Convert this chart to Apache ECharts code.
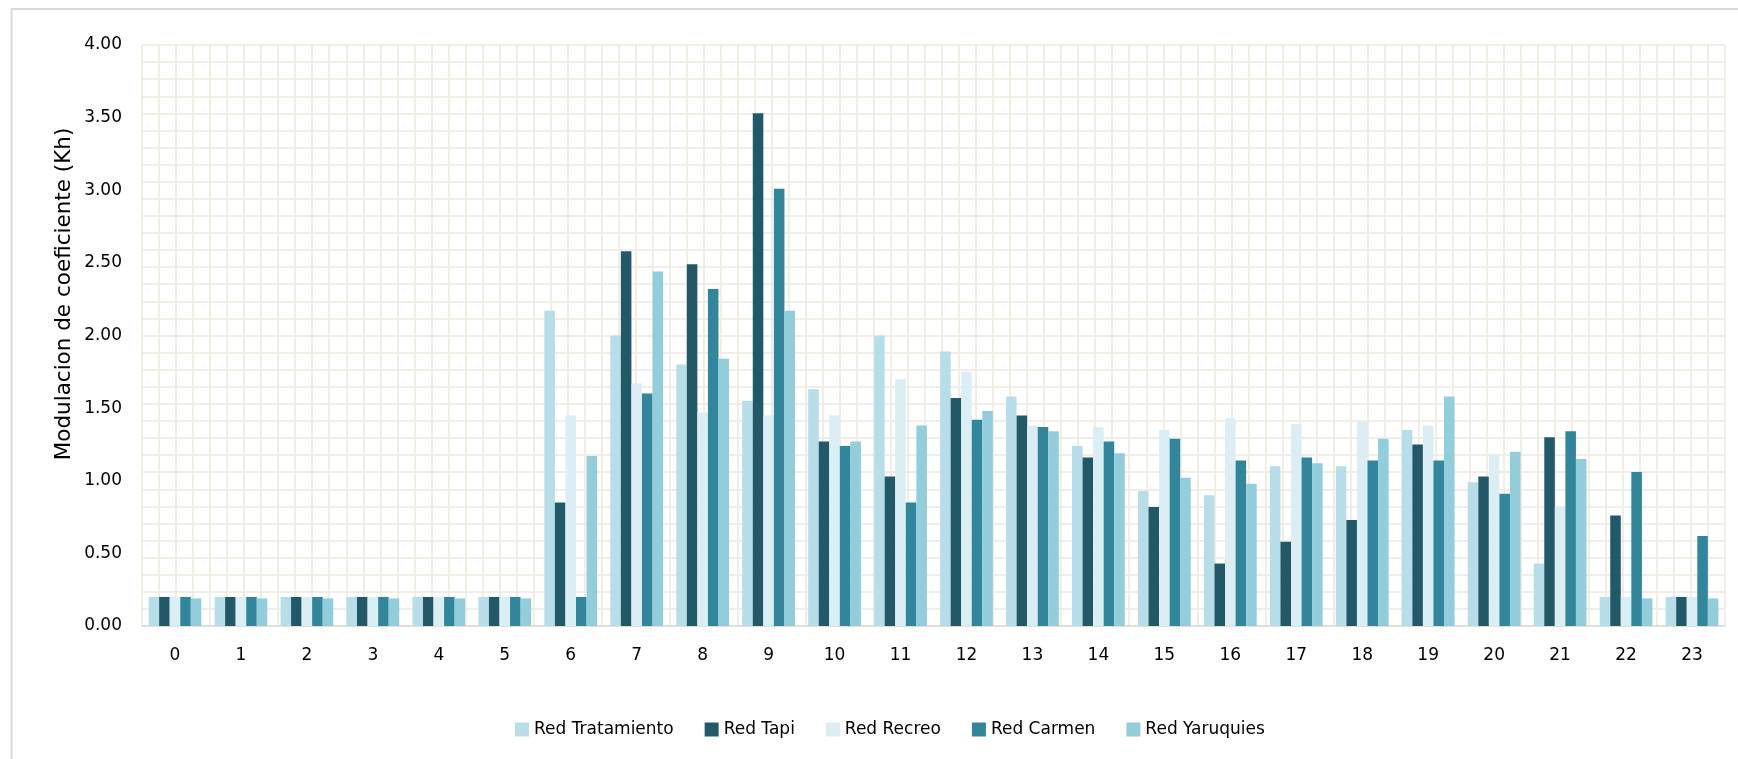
<!DOCTYPE html>
<html>
<head>
<meta charset="utf-8">
<title>Modulacion de coeficiente (Kh)</title>
<script src="https://cdn.jsdelivr.net/npm/echarts@6/dist/echarts.min.js"></script>
<style>
  html, body { margin: 0; padding: 0; background: #ffffff; }
  #chart { width: 1738px; height: 759px; }
</style>
</head>
<body>
<div id="chart"></div>
<script>
// Hours of the day (category axis)
const hours = ['0','1','2','3','4','5','6','7','8','9','10','11','12','13','14','15','16','17','18','19','20','21','22','23'];

// Hourly coefficient per network
const redTratamiento = [0.20,0.20,0.20,0.20,0.20,0.20,2.17,2.00,1.80,1.55,1.63,2.00,1.89,1.58,1.24,0.93,0.90,1.10,1.10,1.35,0.99,0.43,0.20,0.20];
const redTapi        = [0.20,0.20,0.20,0.20,0.20,0.20,0.85,2.58,2.49,3.53,1.27,1.03,1.57,1.45,1.16,0.82,0.43,0.58,0.73,1.25,1.03,1.30,0.76,0.20];
const redRecreo      = [0.20,0.20,0.20,0.20,0.20,0.20,1.45,1.67,1.47,1.45,1.45,1.70,1.75,1.38,1.37,1.35,1.43,1.39,1.41,1.38,1.18,0.82,0.20,0.20];
const redCarmen      = [0.20,0.20,0.20,0.20,0.20,0.20,0.20,1.60,2.32,3.01,1.24,0.85,1.42,1.37,1.27,1.29,1.14,1.16,1.14,1.14,0.91,1.34,1.06,0.62];
const redYaruquies   = [0.19,0.19,0.19,0.19,0.19,0.19,1.17,2.44,1.84,2.17,1.27,1.38,1.48,1.34,1.19,1.02,0.98,1.12,1.29,1.58,1.20,1.15,0.19,0.19];

const seriesNames = ['Red Tratamiento','Red Tapi','Red Recreo','Red Carmen','Red Yaruquies'];
const seriesData  = [redTratamiento, redTapi, redRecreo, redCarmen, redYaruquies];
const seriesColors = ['#B7DEE8','#215968','#DAEEF3','#31869B','#92CDDC'];

// Value axis ticks
const yMin = 0, yMax = 4, yStep = 0.5;

const FONT = 'DejaVu Sans';
const chart = echarts.init(document.getElementById('chart'), null, { renderer: 'canvas' });

const gridPattern = { show: true, lineStyle: { color: '#EDEADD', width: 1.5 } };

chart.setOption({
  animation: false,
  backgroundColor: '#ffffff',
  textStyle: { fontFamily: FONT },
  grid: { left: 142, right: 13, top: 45, bottom: 133, containLabel: false },
  legend: {
    data: seriesNames,
    left: 515,
    top: 721,
    padding: 0,
    icon: 'rect',
    itemWidth: 14,
    itemHeight: 14,
    itemGap: 31,
    textStyle: { fontFamily: FONT, fontSize: 17, color: '#000000' }
  },
  graphic: [
    {
      type: 'rect',
      z: -10,
      silent: true,
      shape: { x: 11.5, y: 9, width: 1800, height: 800 },
      style: { fill: 'none', stroke: '#D9D9D9', lineWidth: 2 }
    },
    {
      type: 'text',
      x: 64,
      y: 294,
      rotation: Math.PI / 2,
      silent: true,
      style: {
        text: 'Modulacion de coeficiente (Kh)',
        fontFamily: FONT,
        fontSize: 21.5,
        fill: '#000000',
        align: 'center',
        verticalAlign: 'middle'
      }
    }
  ],
  xAxis: [
    {
      type: 'category',
      data: hours,
      axisLine: { show: true, lineStyle: { color: '#D9D9D9', width: 1.5 } },
      axisTick: { show: false },
      axisLabel: { color: '#000000', fontFamily: FONT, fontSize: 17, margin: 21 },
      splitLine: { show: false }
    },
    {
      // background square grid (vertical lines)
      type: 'value',
      position: 'top',
      min: 0, max: 93, interval: 1,
      axisLine: { show: false }, axisTick: { show: false }, axisLabel: { show: false },
      splitLine: gridPattern
    }
  ],
  yAxis: [
    {
      type: 'value',
      min: yMin, max: yMax, interval: yStep,
      axisLine: { show: false },
      axisTick: { show: false },
      axisLabel: {
        color: '#000000', fontFamily: FONT, fontSize: 17, margin: 20,
        formatter: v => v.toFixed(2)
      },
      splitLine: { show: false }
    },
    {
      // background square grid (horizontal lines)
      type: 'value',
      position: 'right',
      min: 0, max: 34, interval: 1,
      axisLine: { show: false }, axisTick: { show: false }, axisLabel: { show: false },
      splitLine: gridPattern
    }
  ],
  series: seriesNames.map((name, i) => ({
    name: name,
    type: 'bar',
    xAxisIndex: 0,
    yAxisIndex: 0,
    data: seriesData[i],
    barGap: '0%',
    barCategoryGap: '20%',
    itemStyle: { color: seriesColors[i] },
    z: 3
  }))
});
</script>
</body>
</html>
